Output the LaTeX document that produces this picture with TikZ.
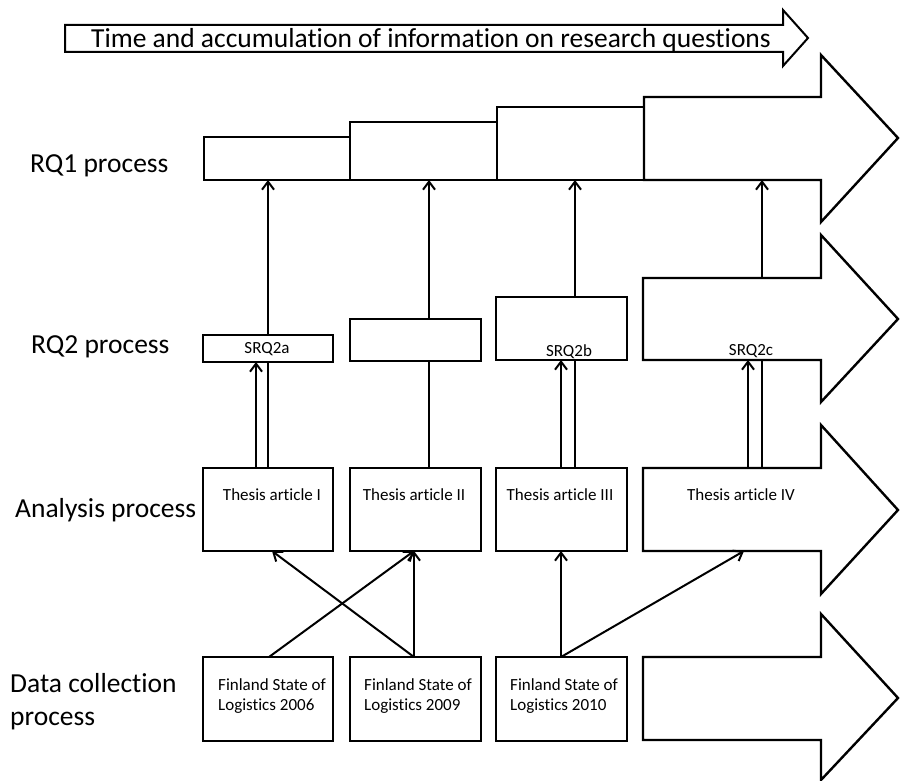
\documentclass[tikz,border=0pt]{standalone}
\usepackage{fontspec}
\setmainfont{Carlito}[Ligatures=NoCommon]
\usetikzlibrary{arrows.meta}
\begin{document}
\begin{tikzpicture}[x=1pt,y=-1pt,
  line join=miter,
  shp/.style={draw, line width=2.4pt},
  box/.style={draw, line width=2.4pt, rectangle, inner sep=0pt, outer sep=0pt, anchor=north west},
  conn/.style={line width=2pt},
  arr/.style={conn, -{Straight Barb[length=8pt,width=12pt,line width=2pt]}},
  lbl/.style={font=\fontsize{27.5}{33}\selectfont, anchor=base west, inner sep=0pt, align=left},
  toptxt/.style={font=\fontsize{27.5}{30}\selectfont, anchor=base, inner sep=0pt},
  small/.style={font=\fontsize{17}{20}\selectfont, anchor=base, inner sep=0pt},
  datatxt/.style={font=\fontsize{17}{20}\selectfont, anchor=base west, inner sep=0pt, align=left},
]
\useasboundingbox (0,0) rectangle (900,781);

% column positions
\coordinate (c1a) at (256,0);
\coordinate (c1b) at (268,0);
\coordinate (c2) at (429,0);
\coordinate (c3a) at (561,0);
\coordinate (c3b) at (575,0);
\coordinate (c4a) at (748,0);
\coordinate (c4b) at (762,0);
\coordinate (e1) at (269,0);
\coordinate (e2) at (414,0);
\coordinate (e3) at (272,0);
\coordinate (e4) at (561,0);
\coordinate (e5) at (744,0);

% top arrow
\draw[shp, line width=2pt] (65,25) -- (783,25) -- (783,10) -- (808,38) -- (783,66) -- (783,52) -- (65,52) -- cycle;
\node[toptxt] (title) at (431,48) {Time and accumulation of information on research questions};

% row labels
\node[lbl] (l1) at (30,173) {RQ1 process};
\node[lbl] (l2) at (31,353) {RQ2 process};
\node[lbl] (l3) at (15,517) {Analysis process};
\node[lbl] (l4) at (10,725) {Data collection\\process};

% RQ1 row
\node[box, minimum width=146pt, minimum height=43pt] (r1a) at (204,137) {};
\node[box, minimum width=147pt, minimum height=58pt] (r1b) at (350,122) {};
\node[box, minimum width=147pt, minimum height=73pt] (r1c) at (497,107) {};
\draw[shp] (644,97) -- (821,97) -- (821,55) -- (898,138) -- (821,222) -- (821,180) coordinate (q1se) -- (644,180) coordinate (q1sw) -- cycle;

% RQ2 row
\node[box, minimum width=130pt, minimum height=27pt] (s2a) at (203,335) {};
\node[box, minimum width=131pt, minimum height=42pt] (s2b) at (350,319) {};
\node[box, minimum width=131pt, minimum height=63pt] (s2c) at (496,297) {};
\draw[shp] (643,278) coordinate (q2nw) -- (821,278) -- (821,235) -- (898,319) -- (821,402) -- (821,360) -- (643,360) coordinate (q2sw) -- cycle;
\node[small] (t2a) at (267,353) {SRQ2a};
\node[small] (t2b) at (569,356) {SRQ2b};
\node[small] (t2c) at (751,355) {SRQ2c};

% Analysis row
\node[box, minimum width=130pt, minimum height=83pt] (a1) at (203,468) {};
\node[box, minimum width=131pt, minimum height=83pt] (a2) at (350,468) {};
\node[box, minimum width=131pt, minimum height=83pt] (a3) at (496,468) {};
\draw[shp] (643,468) coordinate (q3nw) -- (821,468) -- (821,425) -- (898,510) -- (821,594) -- (821,551) -- (643,551) coordinate (q3sw) -- cycle;
\node[small] (ta1) at (272,500) {Thesis article I};
\node[small] (ta2) at (414,500) {Thesis article II};
\node[small] (ta3) at (560,500) {Thesis article III};
\node[small] (ta4) at (741,500) {Thesis article IV};

% Data row
\node[box, minimum width=130pt, minimum height=84pt] (d1) at (203,657) {};
\node[box, minimum width=131pt, minimum height=84pt] (d2) at (350,657) {};
\node[box, minimum width=131pt, minimum height=84pt] (d3) at (496,657) {};
\draw[shp] (643,657) coordinate (q4nw) -- (821,657) -- (821,614) -- (898,698) -- (821,780) -- (821,740) -- (643,740) -- cycle;
\node[datatxt] (dt1) at (218,710) {Finland State of\\Logistics 2006};
\node[datatxt] (dt2) at (364,710) {Finland State of\\Logistics 2009};
\node[datatxt] (dt3) at (510,710) {Finland State of\\Logistics 2010};

% connectors RQ2 -> RQ1
\draw[arr] (s2a.north -| c1b) -- (r1a.south -| c1b);
\draw[arr] (s2b.north -| c2) -- (r1b.south -| c2);
\draw[arr] (s2c.north -| c3b) -- (r1c.south -| c3b);
\draw[arr] (q2nw -| c4b) -- (q1sw -| c4b);

% connectors Analysis -> RQ2
\draw[arr] (a1.north -| c1a) -- (s2a.south -| c1a);
\draw[conn] (a1.north -| c1b) -- (s2a.south -| c1b);
\draw[conn] (a2.north -| c2) -- (s2b.south -| c2);
\draw[arr] (a3.north -| c3a) -- (s2c.south -| c3a);
\draw[conn] (a3.north -| c3b) -- (s2c.south -| c3b);
\draw[arr] (q3nw -| c4a) -- (q2sw -| c4a);
\draw[conn] (q3nw -| c4b) -- (q2sw -| c4b);

% connectors Data -> Analysis
\draw[arr] (d1.north -| e1) -- (a2.south -| e2);
\draw[arr] (d2.north -| e2) -- (a1.south -| e3);
\draw[arr] (d2.north -| e2) -- (a2.south -| e2);
\draw[arr] (d3.north -| e4) -- (a3.south -| e4);
\draw[arr] (d3.north -| e4) -- (q3sw -| e5);
\end{tikzpicture}
\end{document}
